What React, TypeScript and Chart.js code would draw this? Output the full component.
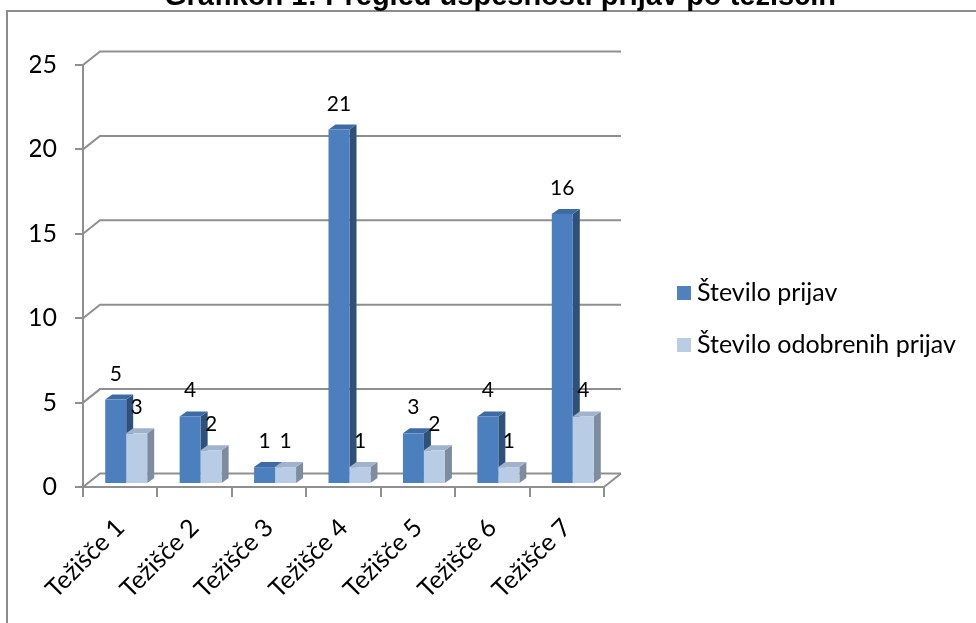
import React, { useEffect, useRef } from 'react';
import { Chart, registerables } from 'chart.js';

Chart.register(...registerables);

const TITLE = 'Grafikon 1: Pregled uspešnosti prijav po težiščih';
const categories = ['Težišče 1', 'Težišče 2', 'Težišče 3', 'Težišče 4', 'Težišče 5', 'Težišče 6', 'Težišče 7'];
const steviloPrijav = [5, 4, 1, 21, 3, 4, 16];
const steviloOdobrenihPrijav = [3, 2, 1, 1, 2, 1, 4];
const seriesNames = ['Število prijav', 'Število odobrenih prijav'];
const yMin = 0;
const yMax = 25;
const yStep = 5;

const FONT = 'Lato, "Open Sans", sans-serif';
const GRID = '#8f8f8f';
const FACE = [
  { front: '#4b7fbe', side: '#2f5079', top: '#3e6ba4', legend: '#4f81bd' },
  { front: '#b8cce6', side: '#7d8c9e', top: '#a0b3ca', legend: '#b9cde5' },
];
const WALL = { dx: 17, dy: -13.5 };
const BAR_SHIFT = { dx: 6, dy: -3 };
const BAR_DEPTH = { dx: 7, dy: -5 };

const excel3d = {
  id: 'excel3d',
  beforeDraw(chart: any) {
    const { ctx } = chart;
    ctx.save();
    ctx.fillStyle = '#ffffff';
    ctx.fillRect(0, 0, chart.width, chart.height);
    ctx.strokeStyle = '#8c8c8c';
    ctx.lineWidth = 2;
    ctx.strokeRect(7, 11, chart.width + 40, chart.height + 40);
    ctx.fillStyle = '#000000';
    ctx.font = 'bold 29px "Liberation Sans", Arial, sans-serif';
    ctx.textAlign = 'center';
    ctx.textBaseline = 'alphabetic';
    ctx.fillText(TITLE, 500, 5);
    ctx.restore();
  },
  beforeDatasetsDraw(chart: any) {
    const { ctx, chartArea } = chart;
    const ys = chart.scales.y;
    ctx.save();
    ctx.strokeStyle = GRID;
    ctx.lineWidth = 2;
    ys.ticks.forEach((t: any) => {
      const py = ys.getPixelForValue(t.value);
      ctx.beginPath();
      ctx.moveTo(chartArea.left, py);
      ctx.lineTo(chartArea.left + WALL.dx, py + WALL.dy);
      ctx.lineTo(chartArea.right + WALL.dx, py + WALL.dy);
      ctx.stroke();
    });
    const p0 = ys.getPixelForValue(0);
    ctx.beginPath();
    ctx.moveTo(chartArea.right, p0);
    ctx.lineTo(chartArea.right + WALL.dx, p0 + WALL.dy);
    ctx.stroke();

    const metas = chart.data.datasets.map((_: any, i: number) => chart.getDatasetMeta(i));
    const n = chart.data.labels.length;
    for (let i = 0; i < n; i++) {
      metas.forEach((meta: any, di: number) => {
        const bar = meta.data[i];
        if (!bar) return;
        const c = FACE[di];
        const x0 = bar.x - bar.width / 2 + BAR_SHIFT.dx;
        const x1 = bar.x + bar.width / 2 + BAR_SHIFT.dx;
        const yt = bar.y + BAR_SHIFT.dy;
        const yb = bar.base + BAR_SHIFT.dy;
        ctx.fillStyle = c.side;
        ctx.beginPath();
        ctx.moveTo(x1, yt);
        ctx.lineTo(x1 + BAR_DEPTH.dx, yt + BAR_DEPTH.dy);
        ctx.lineTo(x1 + BAR_DEPTH.dx, yb + BAR_DEPTH.dy);
        ctx.lineTo(x1, yb);
        ctx.closePath();
        ctx.fill();
        ctx.fillStyle = c.top;
        ctx.beginPath();
        ctx.moveTo(x0, yt);
        ctx.lineTo(x0 + BAR_DEPTH.dx, yt + BAR_DEPTH.dy);
        ctx.lineTo(x1 + BAR_DEPTH.dx, yt + BAR_DEPTH.dy);
        ctx.lineTo(x1, yt);
        ctx.closePath();
        ctx.fill();
        ctx.fillStyle = c.front;
        ctx.fillRect(x0, yt, x1 - x0, yb - yt);
      });
    }
    ctx.restore();
    return false;
  },
  afterDraw(chart: any) {
    const { ctx } = chart;
    ctx.save();
    ctx.fillStyle = '#000000';
    ctx.font = `21px ${FONT}`;
    ctx.textAlign = 'center';
    ctx.textBaseline = 'alphabetic';
    chart.data.datasets.forEach((ds: any, di: number) => {
      const meta = chart.getDatasetMeta(di);
      meta.data.forEach((bar: any, i: number) => {
        const cx = bar.x + BAR_SHIFT.dx;
        const yt = bar.y + BAR_SHIFT.dy;
        ctx.fillText(String(ds.data[i]), cx, yt - 19);
      });
    });
    ctx.font = `25px ${FONT}`;
    ctx.textAlign = 'left';
    ctx.textBaseline = 'middle';
    chart.data.datasets.forEach((ds: any, di: number) => {
      const cy = 293 + di * 52;
      ctx.fillStyle = FACE[di].legend;
      ctx.fillRect(677, cy - 7, 14, 14);
      ctx.fillStyle = '#000000';
      ctx.fillText(ds.label, 697, cy);
    });
    ctx.restore();
  },
};

export default function App() {
  const ref = useRef<HTMLCanvasElement | null>(null);
  useEffect(() => {
    if (!ref.current) return;
    const chart = new Chart(ref.current, {
      type: 'bar',
      data: {
        labels: categories,
        datasets: [
          { label: seriesNames[0], data: steviloPrijav, backgroundColor: FACE[0].legend },
          { label: seriesNames[1], data: steviloOdobrenihPrijav, backgroundColor: FACE[1].legend },
        ],
      },
      options: {
        animation: false,
        responsive: false,
        devicePixelRatio: 1,
        categoryPercentage: 0.564,
        barPercentage: 1,
        layout: { padding: { left: 30, top: 65, right: 372, bottom: 0 } },
        plugins: {
          legend: { display: false },
          tooltip: { enabled: false },
          title: { display: false },
        },
        scales: {
          x: {
            afterFit: (s: any) => { s.height = 136; },
            grid: { drawOnChartArea: false, drawTicks: true, tickLength: 10, color: GRID, lineWidth: 2, offset: true },
            border: { display: true, color: GRID, width: 2 },
            ticks: {
              autoSkip: false,
              minRotation: 45,
              maxRotation: 45,
              padding: 16,
              color: '#000000',
              font: { family: FONT, size: 25 },
            },
          },
          y: {
            min: yMin,
            max: yMax,
            afterFit: (s: any) => { s.width = 53; },
            grid: { drawOnChartArea: false, drawTicks: true, tickLength: 8, color: GRID, lineWidth: 2 },
            border: { display: true, color: GRID, width: 2 },
            ticks: {
              stepSize: yStep,
              padding: 18,
              color: '#000000',
              font: { family: FONT, size: 25 },
            },
          },
        },
      },
      plugins: [excel3d],
    } as any);
    return () => chart.destroy();
  }, []);
  return (
    <div style={{ position: 'fixed', left: 0, top: 0, width: 976, height: 623, background: '#fff', overflow: 'hidden' }}>
      <canvas ref={ref} width={976} height={623} style={{ width: 976, height: 623, display: 'block' }} />
    </div>
  );
}
